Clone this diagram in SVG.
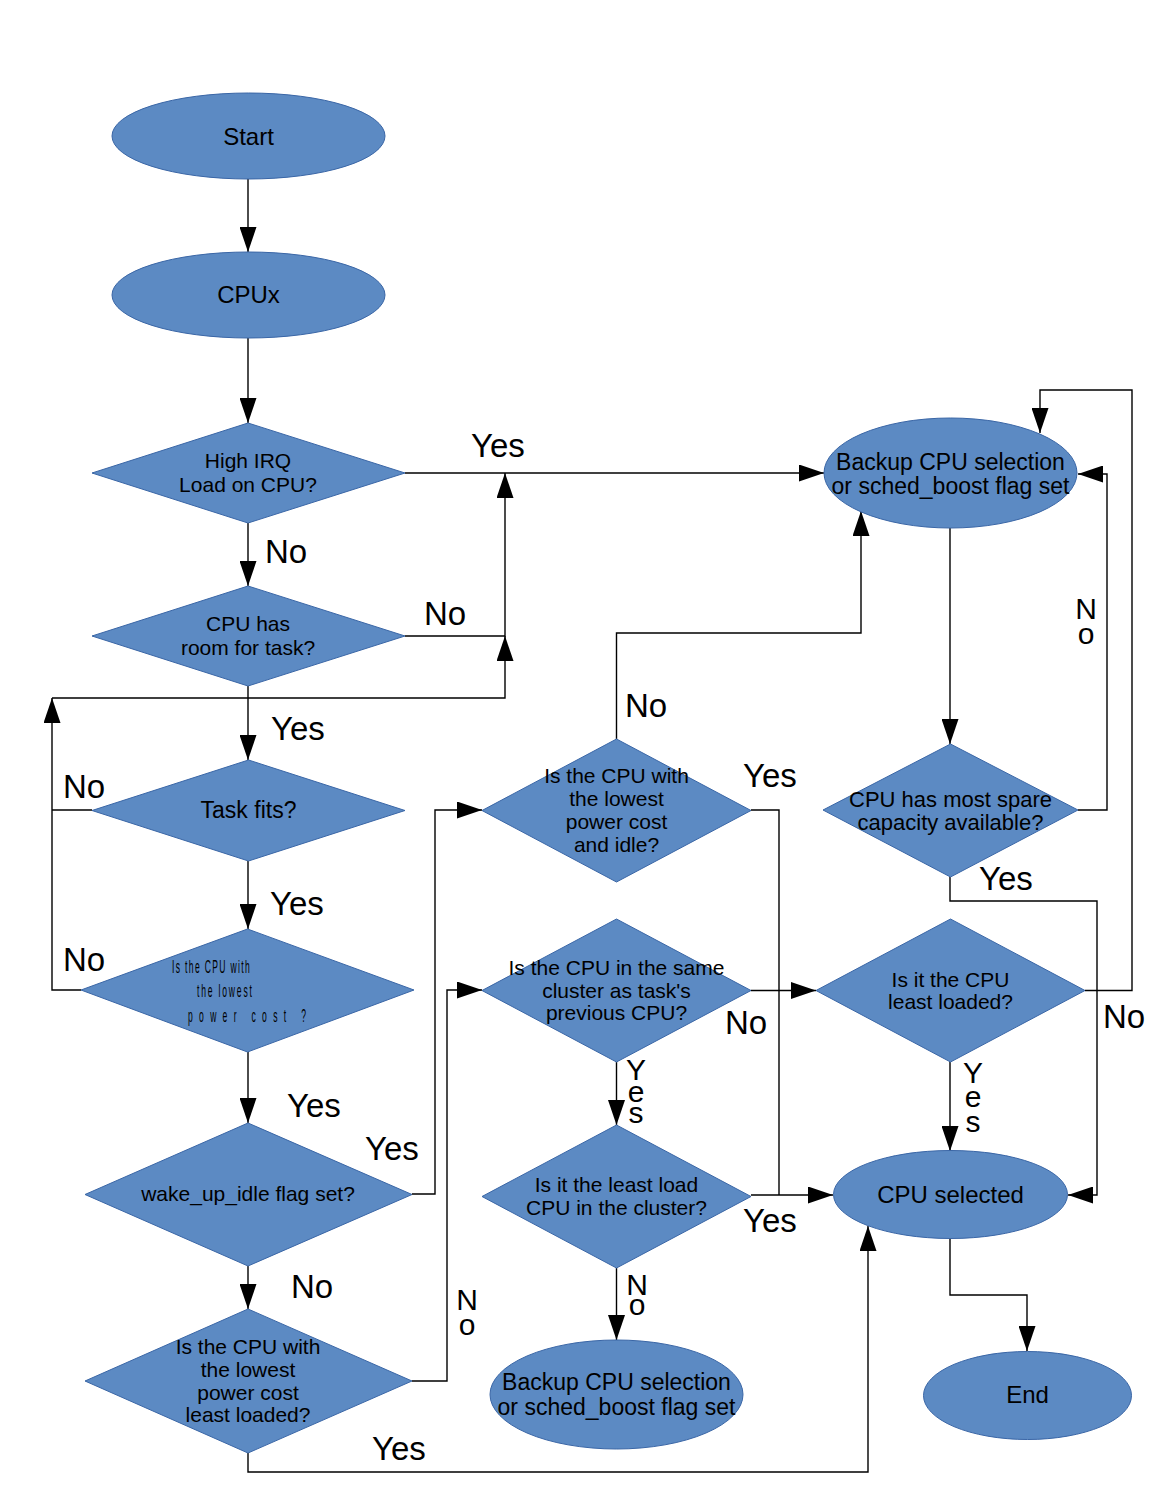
<svg xmlns="http://www.w3.org/2000/svg" width="1156" height="1496" viewBox="0 0 1156 1496">
  <style>
    .node { fill: #5c8ac3; stroke: #3a66a6; stroke-width: 1; }
    .t { font-family: "Liberation Sans", Arial, sans-serif; fill: #000; text-anchor: middle; }
    .t21 { font-size: 21px; }
    .t23 { font-size: 23px; }
    .t24 { font-size: 24px; }
    .lbl { font-family: "Liberation Sans", Arial, sans-serif; font-size: 33px; fill: #000; }
    .vl { font-family: "Liberation Sans", Arial, sans-serif; font-size: 30px; fill: #000; text-anchor: middle; }
    .sq { font-family: "Liberation Sans", Arial, sans-serif; font-size: 19px; fill: #000; }
    .wire { fill: none; stroke: #000; stroke-width: 1.4; }
    .arrow { marker-end: url(#arr); }
  </style>
  <defs>
    <marker id="arr" viewBox="0 0 25 17" refX="25" refY="8.5" markerWidth="25" markerHeight="17" markerUnits="userSpaceOnUse" orient="auto">
      <path d="M0,0 L25,8.5 L0,17 Z" fill="#000"/>
    </marker>
  </defs>

  <rect width="1156" height="1496" fill="#fff"/>

  <!-- connectors -->
  <g id="connectors">
    <path class="wire arrow" d="M248 179 V252"/>
    <path class="wire arrow" d="M248 338 V423"/>
    <path class="wire arrow" d="M405 473 H824"/>
    <path class="wire arrow" d="M248 523 V586"/>
    <path class="wire arrow" d="M405 636 H505 V473"/>
    <path class="wire arrow" d="M248 686 V760"/>
    <path class="wire arrow" d="M52 698 H505 V636"/>
    <path class="wire" d="M92 810 H52"/>
    <path class="wire arrow" d="M81 990 H52 V698"/>
    <path class="wire arrow" d="M248 861 V929"/>
    <path class="wire arrow" d="M248 1052 V1123"/>
    <path class="wire arrow" d="M412 1194 H435 V810 H482"/>
    <path class="wire arrow" d="M248 1266 V1309"/>
    <path class="wire arrow" d="M412 1381 H447 V990 H482"/>
    <path class="wire arrow" d="M248 1453 V1472 H868 V1226"/>
    <path class="wire arrow" d="M616.5 739 V633 H861 V511"/>
    <path class="wire" d="M751 810 H779 V1195"/>
    <path class="wire arrow" d="M751 1195 H833"/>
    <path class="wire arrow" d="M751 990.5 H816"/>
    <path class="wire arrow" d="M616.5 1062 V1125"/>
    <path class="wire arrow" d="M616.5 1268 V1340"/>
    <path class="wire arrow" d="M950 528 V744"/>
    <path class="wire arrow" d="M1078 810 H1107 V474 H1078"/>
    <path class="wire arrow" d="M950 877 V901 H1097 V1195 H1068"/>
    <path class="wire arrow" d="M1085 990.5 H1132 V390 H1040 V433"/>
    <path class="wire arrow" d="M950 1062 V1151"/>
    <path class="wire arrow" d="M950 1238 V1295 H1027 V1351"/>
  </g>

  <!-- connector labels -->
  <g id="labels">
    <text class="lbl" x="471" y="457">Yes</text>
    <text class="lbl" x="265" y="563">No</text>
    <text class="lbl" x="424" y="625">No</text>
    <text class="lbl" x="271" y="740">Yes</text>
    <text class="lbl" x="63" y="798">No</text>
    <text class="lbl" x="270" y="915">Yes</text>
    <text class="lbl" x="63" y="971">No</text>
    <text class="lbl" x="287" y="1117">Yes</text>
    <text class="lbl" x="365" y="1160">Yes</text>
    <text class="lbl" x="291" y="1298">No</text>
    <text class="lbl" x="372" y="1460">Yes</text>
    <text class="vl"><tspan x="467" y="1310">N</tspan><tspan x="467" y="1335">o</tspan></text>
    <text class="lbl" x="625" y="717">No</text>
    <text class="lbl" x="743" y="787">Yes</text>
    <text class="lbl" x="725" y="1034">No</text>
    <text class="vl"><tspan x="636" y="1080">Y</tspan><tspan x="636" y="1102">e</tspan><tspan x="636" y="1123">s</tspan></text>
    <text class="lbl" x="743" y="1232">Yes</text>
    <text class="vl"><tspan x="637" y="1295">N</tspan><tspan x="637" y="1315">o</tspan></text>
    <text class="vl"><tspan x="1086" y="619">N</tspan><tspan x="1086" y="644">o</tspan></text>
    <text class="lbl" x="979" y="890">Yes</text>
    <text class="lbl" x="1103" y="1028">No</text>
    <text class="vl"><tspan x="973" y="1083">Y</tspan><tspan x="973" y="1107">e</tspan><tspan x="973" y="1132">s</tspan></text>
  </g>

  <!-- left column -->
  <g id="start">
    <ellipse class="node" cx="248.5" cy="136" rx="136.5" ry="43"/>
    <text class="t t24" x="248.5" y="145">Start</text>
  </g>
  <g id="cpux">
    <ellipse class="node" cx="248.5" cy="295" rx="136.5" ry="43"/>
    <text class="t t24" x="248.5" y="303">CPUx</text>
  </g>
  <g id="high-irq">
    <polygon class="node" points="248,423 405,473 248,523 92,473"/>
    <text class="t t21" x="248" y="468">High IRQ</text>
    <text class="t t21" x="248" y="492">Load on CPU?</text>
  </g>
  <g id="cpu-room">
    <polygon class="node" points="248,586 405,636 248,686 92,636"/>
    <text class="t t21" x="248" y="631">CPU has</text>
    <text class="t t21" x="248" y="655">room for task?</text>
  </g>
  <g id="task-fits">
    <polygon class="node" points="248.5,760 405,810.5 248.5,861 92,810.5"/>
    <text class="t t23" x="248.5" y="818">Task fits?</text>
  </g>
  <g id="lowest-power">
    <polygon class="node" points="247.5,929 414,990 247.5,1052 81,990"/>
    <!-- squeezed, letter-spaced caption -->
    <text class="sq" transform="translate(172,973) scale(0.45,1)" textLength="173" lengthAdjust="spacing">Is the CPU with</text>
    <text class="sq" transform="translate(197,997) scale(0.45,1)" textLength="122" lengthAdjust="spacing">the lowest</text>
    <text class="sq" transform="translate(188,1022) scale(0.45,1)" textLength="262" lengthAdjust="spacing">power cost ?</text>
  </g>
  <g id="wake-up-idle">
    <polygon class="node" points="248,1123 412,1194.5 248,1266 85,1194.5"/>
    <text class="t t21" x="248" y="1201">wake_up_idle flag set?</text>
  </g>
  <g id="lowest-power-least-loaded">
    <polygon class="node" points="248,1309 412,1381 248,1453 85,1381"/>
    <text class="t t21" x="248" y="1354">Is the CPU with</text>
    <text class="t t21" x="248" y="1377">the lowest</text>
    <text class="t t21" x="248" y="1400">power cost</text>
    <text class="t t21" x="248" y="1422">least loaded?</text>
  </g>

  <!-- middle column -->
  <g id="lowest-power-idle">
    <polygon class="node" points="616.5,739 751,810.5 616.5,882 482,810.5"/>
    <text class="t t21" x="616.5" y="783">Is the CPU with</text>
    <text class="t t21" x="616.5" y="806">the lowest</text>
    <text class="t t21" x="616.5" y="829">power cost</text>
    <text class="t t21" x="616.5" y="852">and idle?</text>
  </g>
  <g id="same-cluster">
    <polygon class="node" points="616.5,919 751,990.5 616.5,1062 482,990.5"/>
    <text class="t t21" x="616.5" y="975">Is the CPU in the same</text>
    <text class="t t21" x="616.5" y="998">cluster as task's</text>
    <text class="t t21" x="616.5" y="1020">previous CPU?</text>
  </g>
  <g id="least-load-cluster">
    <polygon class="node" points="616.5,1125 751,1196.5 616.5,1268 482,1196.5"/>
    <text class="t t21" x="616.5" y="1192">Is it the least load</text>
    <text class="t t21" x="616.5" y="1215">CPU in the cluster?</text>
  </g>
  <g id="backup-bottom">
    <ellipse class="node" cx="616.5" cy="1394.5" rx="126.5" ry="54.5"/>
    <text class="t t23" x="616.5" y="1390">Backup CPU selection</text>
    <text class="t t23" x="616.5" y="1415">or sched_boost flag set</text>
  </g>

  <!-- right column -->
  <g id="backup-top">
    <ellipse class="node" cx="950.5" cy="473" rx="126.5" ry="55"/>
    <text class="t t23" x="950.5" y="470">Backup CPU selection</text>
    <text class="t t23" x="950.5" y="494">or sched_boost flag set</text>
  </g>
  <g id="most-spare">
    <polygon class="node" points="950.5,744 1078,810 950.5,877 823,810"/>
    <text class="t" font-size="22" x="950.5" y="807">CPU has most spare</text>
    <text class="t" font-size="22" x="950.5" y="830">capacity available?</text>
  </g>
  <g id="least-loaded">
    <polygon class="node" points="950.5,919 1085,990.5 950.5,1062 816,990.5"/>
    <text class="t t21" x="950.5" y="987">Is it the CPU</text>
    <text class="t t21" x="950.5" y="1009">least loaded?</text>
  </g>
  <g id="cpu-selected">
    <ellipse class="node" cx="950.5" cy="1194.5" rx="117" ry="44"/>
    <text class="t t24" x="950.5" y="1203">CPU selected</text>
  </g>
  <g id="end">
    <ellipse class="node" cx="1027.5" cy="1395.5" rx="104" ry="44"/>
    <text class="t t24" x="1027.5" y="1403">End</text>
  </g>
</svg>
